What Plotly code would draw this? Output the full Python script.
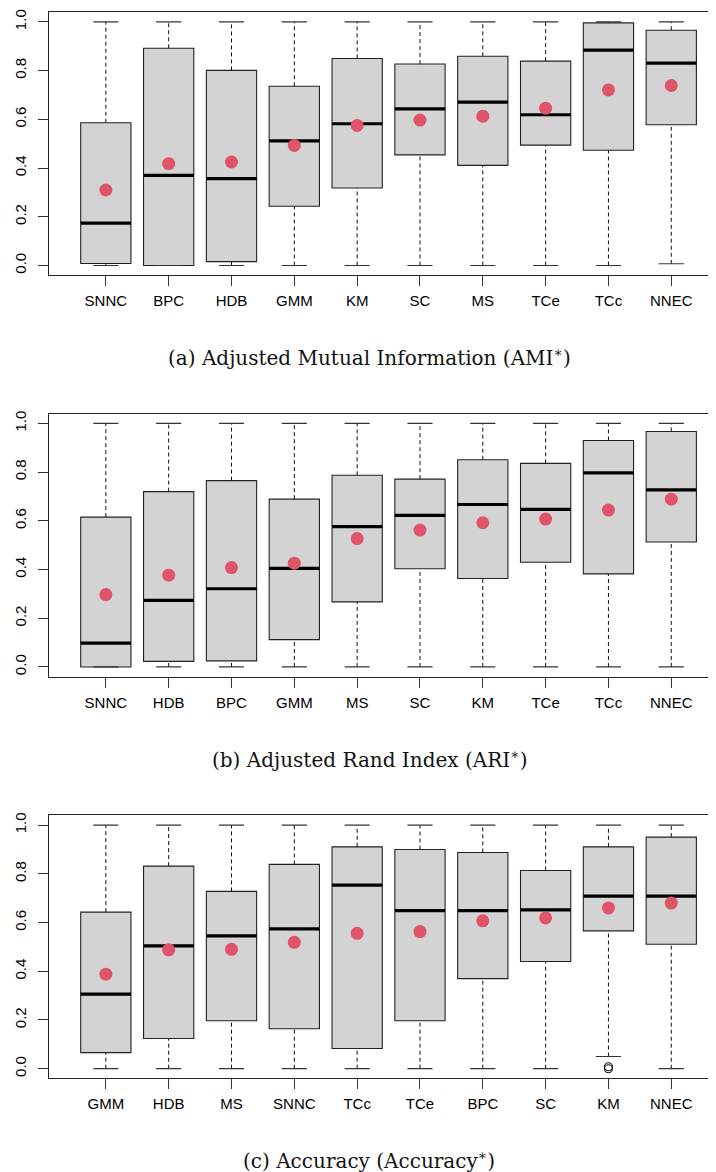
import plotly.graph_objects as go

# ---------------- data ----------------
a_labels = ["SNNC", "BPC", "HDB", "GMM", "KM", "SC", "MS", "TCe", "TCc", "NNEC"]
a_min = [0.0, 0.0, 0.0, 0.0, 0.0, 0.0, 0.0, 0.0, 0.0, 0.007]
a_q1 = [0.008, 0.0, 0.016, 0.243, 0.318, 0.454, 0.411, 0.494, 0.473, 0.578]
a_med = [0.174, 0.370, 0.357, 0.512, 0.582, 0.643, 0.671, 0.619, 0.884, 0.831]
a_q3 = [0.586, 0.892, 0.801, 0.736, 0.850, 0.827, 0.859, 0.839, 0.996, 0.966]
a_max = [1.0, 1.0, 1.0, 1.0, 1.0, 1.0, 1.0, 1.0, 1.0, 1.0]
a_mean = [0.310, 0.418, 0.425, 0.493, 0.575, 0.597, 0.613, 0.646, 0.721, 0.739]

b_labels = ["SNNC", "HDB", "BPC", "GMM", "MS", "SC", "KM", "TCe", "TCc", "NNEC"]
b_min = [0.0, 0.0, 0.0, 0.0, 0.0, 0.0, 0.0, 0.0, 0.0, 0.0]
b_q1 = [0.0, 0.023, 0.025, 0.112, 0.267, 0.403, 0.363, 0.430, 0.382, 0.513]
b_med = [0.098, 0.273, 0.321, 0.405, 0.576, 0.622, 0.667, 0.647, 0.797, 0.727]
b_q3 = [0.615, 0.720, 0.765, 0.689, 0.787, 0.771, 0.851, 0.836, 0.930, 0.967]
b_max = [1.0, 1.0, 1.0, 1.0, 1.0, 1.0, 1.0, 1.0, 1.0, 1.0]
b_mean = [0.297, 0.377, 0.408, 0.426, 0.527, 0.562, 0.592, 0.607, 0.644, 0.689]

c_labels = ["GMM", "HDB", "MS", "SNNC", "TCc", "TCe", "BPC", "SC", "KM", "NNEC"]
c_min = [0.0, 0.0, 0.0, 0.0, 0.0, 0.0, 0.0, 0.0, 0.050, 0.0]
c_q1 = [0.066, 0.124, 0.197, 0.164, 0.083, 0.197, 0.370, 0.440, 0.566, 0.511]
c_med = [0.306, 0.504, 0.545, 0.574, 0.754, 0.649, 0.649, 0.652, 0.709, 0.709]
c_q3 = [0.643, 0.832, 0.728, 0.839, 0.911, 0.900, 0.888, 0.814, 0.911, 0.951]
c_max = [1.0, 1.0, 1.0, 1.0, 1.0, 1.0, 1.0, 1.0, 1.0, 1.0]
c_mean = [0.388, 0.488, 0.490, 0.519, 0.556, 0.563, 0.607, 0.619, 0.660, 0.680]
c_out_cat = ["KM", "KM"]
c_out_val = [0.0, 0.008]

captions = [
    "(a) Adjusted Mutual Information (AMI<sup>∗</sup>)",
    "(b) Adjusted Rand Index (ARI<sup>∗</sup>)",
    "(c) Accuracy (Accuracy<sup>∗</sup>)",
]

y_ticks = [0.0, 0.2, 0.4, 0.6, 0.8, 1.0]
y_ticktext = ["0.0", "0.2", "0.4", "0.6", "0.8", "1.0"]

panels = [
    dict(labels=a_labels, mn=a_min, q1=a_q1, med=a_med, q3=a_q3, mx=a_max, mean=a_mean, out_cat=[], out_val=[]),
    dict(labels=b_labels, mn=b_min, q1=b_q1, med=b_med, q3=b_q3, mx=b_max, mean=b_mean, out_cat=[], out_val=[]),
    dict(labels=c_labels, mn=c_min, q1=c_q1, med=c_med, q3=c_q3, mx=c_max, mean=c_mean, out_cat=c_out_cat, out_val=c_out_val),
]

# ---------------- layout geometry ----------------
PAGE_OFF = 8          # browser body margin
PW, PH = 716, 1172    # page size
W, H = PW - PAGE_OFF, PH - PAGE_OFF
BOXW = 0.8
CAPW = 0.4
plot_left_px = 49.3 - PAGE_OFF
panel_tops = [9.2 - PAGE_OFF, 411.7 - PAGE_OFF, 814.5 - PAGE_OFF]
panel_h = 263.7
caption_y = [355 - PAGE_OFF, 757.5 - PAGE_OFF, 1160 - PAGE_OFF]
caption_x = 369 - PAGE_OFF

GRAY = "#D3D3D3"
RED = "#DF536B"
LINE = "#222222"
TICKFONT = dict(family="Liberation Sans, Arial, sans-serif", size=15, color="#000000")

fig = go.Figure()
layout = dict(
    width=W, height=H,
    margin=dict(l=0, r=0, t=0, b=0),
    paper_bgcolor="white", plot_bgcolor="white",
    showlegend=False,
    annotations=[],
)

for k, p in enumerate(panels):
    xa = "x" if k == 0 else f"x{k+1}"
    ya = "y" if k == 0 else f"y{k+1}"
    n = len(p["labels"])
    pos = list(range(1, n + 1))

    # whiskers (dashed)
    wx, wy = [], []
    for i in range(n):
        wx += [pos[i], pos[i], None, pos[i], pos[i], None]
        wy += [p["q3"][i], p["mx"][i], None, p["mn"][i], p["q1"][i], None]
    fig.add_trace(go.Scatter(x=wx, y=wy, mode="lines", xaxis=xa, yaxis=ya,
                             line=dict(color="#111111", width=1, dash="4px,3px"),
                             hoverinfo="skip"))
    # staples
    sx, sy = [], []
    for i in range(n):
        sx += [pos[i] - CAPW / 2, pos[i] + CAPW / 2, None, pos[i] - CAPW / 2, pos[i] + CAPW / 2, None]
        sy += [p["mx"][i], p["mx"][i], None, p["mn"][i], p["mn"][i], None]
    fig.add_trace(go.Scatter(x=sx, y=sy, mode="lines", xaxis=xa, yaxis=ya,
                             line=dict(color="#333333", width=1.2), hoverinfo="skip"))
    # boxes
    fig.add_trace(go.Bar(x=pos, y=[p["q3"][i] - p["q1"][i] for i in range(n)], base=p["q1"],
                         width=BOXW, xaxis=xa, yaxis=ya,
                         marker=dict(color=GRAY, line=dict(color=LINE, width=1.1)),
                         hoverinfo="skip"))
    # medians
    mx_, my_ = [], []
    for i in range(n):
        mx_ += [pos[i] - BOXW / 2, pos[i] + BOXW / 2, None]
        my_ += [p["med"][i], p["med"][i], None]
    fig.add_trace(go.Scatter(x=mx_, y=my_, mode="lines", xaxis=xa, yaxis=ya,
                             line=dict(color="#000000", width=3.2), hoverinfo="skip"))
    # outliers
    if p["out_cat"]:
        ox = [pos[p["labels"].index(c)] for c in p["out_cat"]]
        fig.add_trace(go.Scatter(x=ox, y=p["out_val"], mode="markers", xaxis=xa, yaxis=ya,
                                 marker=dict(symbol="circle-open", size=8, color="#111111",
                                             line=dict(width=1.1)),
                                 hoverinfo="skip"))
    # means
    fig.add_trace(go.Scatter(x=pos, y=p["mean"], mode="markers", xaxis=xa, yaxis=ya,
                             marker=dict(color=RED, size=13, line=dict(width=0)),
                             hoverinfo="skip"))

    top = panel_tops[k]
    bot = top + panel_h
    xkey = "xaxis" if k == 0 else f"xaxis{k+1}"
    ykey = "yaxis" if k == 0 else f"yaxis{k+1}"
    layout[xkey] = dict(
        domain=[plot_left_px / W, 1.0],
        range=[0.1, 1 + (PW - 106.0) / 62.81],
        anchor=ya,
        tickmode="array", tickvals=pos, ticktext=p["labels"],
        ticks="outside", ticklen=10, tickwidth=1, tickcolor="#333333",
        showline=True, linecolor="#222222", linewidth=1, mirror=True,
        showgrid=False, zeroline=False, tickfont=TICKFONT,
        ticklabelstandoff=2,
        fixedrange=True,
    )
    layout[ykey] = dict(
        domain=[1 - bot / H, 1 - top / H],
        range=[-0.04, 1.04],
        anchor=xa,
        tickmode="array", tickvals=y_ticks, ticktext=y_ticktext,
        tickangle=-90,
        ticks="outside", ticklen=10, tickwidth=1, tickcolor="#333333",
        showline=True, linecolor="#222222", linewidth=1, mirror=False,
        showgrid=False, zeroline=False, tickfont=TICKFONT,
        ticklabelstandoff=6,
        fixedrange=True,
    )
    layout["annotations"].append(dict(
        text=captions[k], xref="paper", yref="paper",
        x=caption_x / W, y=1 - caption_y[k] / H,
        xanchor="center", yanchor="middle", showarrow=False,
        font=dict(family="DejaVu Serif, serif", size=20, color="#111111"),
    ))

fig.update_layout(**layout)
fig.write_html("out.html")
